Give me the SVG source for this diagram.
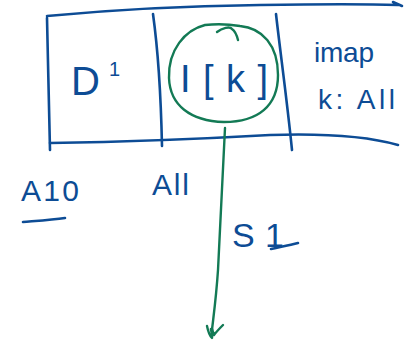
<svg xmlns="http://www.w3.org/2000/svg" width="405" height="344" viewBox="0 0 405 344">
  <style>
    .ink { fill: none; stroke: #0d4c95; stroke-width: 2.6; stroke-linecap: round; stroke-linejoin: round; }
    .green { fill: none; stroke: #137a55; stroke-width: 2.4; stroke-linecap: round; stroke-linejoin: round; }
    .lbl { fill: #0d4c95; font-family: "Liberation Sans", "DejaVu Sans", sans-serif; font-weight: normal; }
  </style>
  <rect width="405" height="344" fill="#ffffff"/>

  <!-- tape outline -->
  <g id="tape">
    <path class="ink" d="M47,16 C110,10 180,6 260,5 C320,4 370,4 398,5 M393,2 L402,6"/>
    <path class="ink" d="M47,18 C48,60 49,110 50,150"/>
    <path class="ink" d="M50,143 C120,142 200,139 270,135 C330,133 370,137 398,145"/>
  </g>

  <!-- cell D' -->
  <g id="cell-d">
    <path class="ink" d="M153,14 C158,50 161,100 162,146"/>
    <text class="lbl" x="71" y="95" font-size="40">D</text>
    <text class="lbl" x="109" y="76" font-size="20">1</text>
  </g>

  <!-- head cell I[k] -->
  <g id="cell-head">
    <path class="ink" d="M276,14 C280,50 287,100 292,150"/>
    <path class="green" d="M205,25 C185,30 168,50 169,78 C170,105 190,121 224,122 C258,122 278,106 278,75 C278,45 262,28 240,26 C228,24 214,24 205,25"/>
    <path class="green" d="M217,32 C222,28 230,26 232,29 C235,31 237,36 238,40"/>
    <text class="lbl" x="180" y="92" font-size="38" textLength="88" lengthAdjust="spacing">I[k]</text>
  </g>

  <!-- imap note -->
  <g id="imap">
    <text class="lbl" x="314" y="62" font-size="28" textLength="60" lengthAdjust="spacing">imap</text>
    <text class="lbl" x="318" y="109" font-size="28" textLength="77" lengthAdjust="spacing">k: All</text>
  </g>

  <!-- address labels -->
  <g id="addr-a10">
    <text class="lbl" x="21" y="201" font-size="30" textLength="58" lengthAdjust="spacing">A10</text>
    <path class="ink" d="M23,222 C35,221 52,220 65,218"/>
  </g>
  <g id="addr-a11">
    <text class="lbl" x="152" y="195" font-size="30" textLength="37" lengthAdjust="spacing">All</text>
  </g>

  <!-- transition to S1 -->
  <g id="connectors">
    <path class="green" d="M225,128 C222,180 220,230 218,270 C216,300 213,320 212,330"/>
    <path class="green" d="M207,326 C208,331 210,336 212,338 C213,332 209,328 212,329 L214,335 C217,331 220,328 223,325"/>
  </g>
  <g id="state-s1">
    <text class="lbl" x="232" y="247" font-size="34" textLength="52" lengthAdjust="spacing">S1</text>
    <path class="ink" d="M271,249 C280,247 290,245 298,243"/>
  </g>
</svg>
